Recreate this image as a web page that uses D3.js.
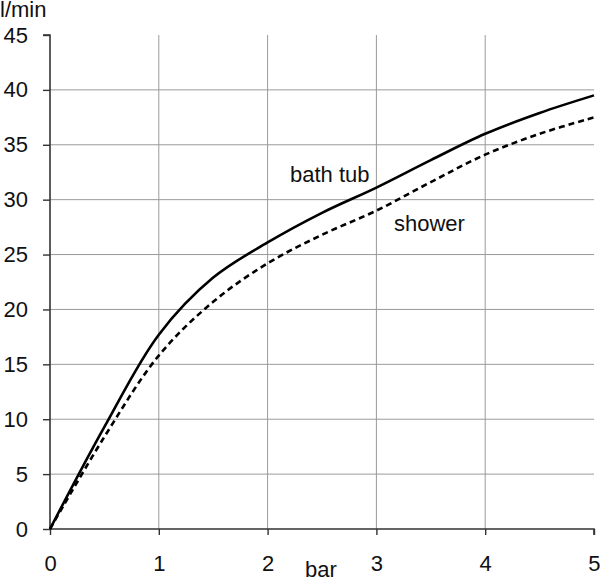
<!DOCTYPE html>
<html><head><meta charset="utf-8">
<script src="https://cdn.jsdelivr.net/npm/d3@7"></script>
<style>body{margin:0;background:#fff}svg text{font-family:"Liberation Sans",Arial,sans-serif;fill:#111}</style>
</head><body><svg id="c" width="600" height="581"></svg>
<script>
const pressure = [0, 0.5, 1, 1.5, 2, 2.5, 3, 3.5, 4, 4.5, 5];
const bathTub  = [0, 9.3, 17.7, 22.9, 26.1, 28.8, 31.1, 33.6, 36.0, 37.9, 39.5];
const shower   = [0, 8.4, 15.8, 20.7, 24.2, 26.8, 29.0, 31.6, 34.1, 36.0, 37.5];
const xTicks = [0, 1, 2, 3, 4, 5];
const yTicks = [0, 5, 10, 15, 20, 25, 30, 35, 40, 45];
const seriesLabels = ["bath tub", "shower"];

const FS = 22;
const svg = d3.select("#c");
const x = d3.scaleLinear().domain([0, 5]).range([50, 594]);
const y = d3.scaleLinear().domain([0, 45]).range([529, 35]);

// grid
svg.append("g").selectAll("line").data(yTicks.filter(d => d > 0 && d < 45)).join("line")
  .attr("x1", x(0)).attr("x2", x(5)).attr("y1", d => y(d)).attr("y2", d => y(d))
  .attr("stroke", "#9a9a9a").attr("stroke-width", 1);
svg.append("g").selectAll("line").data(xTicks.filter(d => d > 0 && d < 5)).join("line")
  .attr("x1", d => x(d)).attr("x2", d => x(d)).attr("y1", y(0)).attr("y2", y(45))
  .attr("stroke", "#9a9a9a").attr("stroke-width", 1);

// axes
const yAxis = svg.append("g").attr("transform", `translate(${x(0)},0)`)
  .call(d3.axisLeft(y).tickValues(yTicks).tickFormat(d3.format("d")).tickSize(7).tickPadding(15));
const xAxis = svg.append("g").attr("transform", `translate(0,${y(0)})`)
  .call(d3.axisBottom(x).tickValues(xTicks).tickFormat(d3.format("d")).tickSize(6).tickPadding(20));
[yAxis, xAxis].forEach(a => {
  a.select(".domain").attr("stroke", "#333").attr("stroke-width", 1.6);
  a.selectAll(".tick line").attr("stroke", "#333").attr("stroke-width", 1.4);
  a.selectAll("text").attr("font-size", FS).attr("fill", "#111")
    .attr("font-family", '"Liberation Sans",Arial,sans-serif');
});
yAxis.select(".domain").attr("d", `M-7,${y(45)}H0V${y(0)}`);
xAxis.select(".domain").attr("d", `M${x(0)},0H${x(5)}V6`);
xAxis.selectAll(".tick").filter(d => d === 5).select("text").attr("text-anchor", "end").attr("dx", 6);

// lines
const line = arr => d3.line().x((d, i) => x(pressure[i])).y(d => y(d)).curve(d3.curveCatmullRom.alpha(0.5))(arr);
svg.append("path").attr("d", line(bathTub)).attr("fill", "none").attr("stroke", "#000").attr("stroke-width", 2.6);
svg.append("path").attr("d", line(shower)).attr("fill", "none").attr("stroke", "#000").attr("stroke-width", 2.6)
  .attr("stroke-dasharray", "6,4");

// labels
svg.append("text").attr("x", 0).attr("y", 17).attr("font-size", FS).text("l/min");
svg.append("text").attr("x", 305).attr("y", 577).attr("font-size", FS).text("bar");
svg.append("text").attr("x", 290).attr("y", 182).attr("font-size", FS).text(seriesLabels[0]);
svg.append("text").attr("x", 394).attr("y", 231).attr("font-size", FS).text(seriesLabels[1]);
</script></body></html>
